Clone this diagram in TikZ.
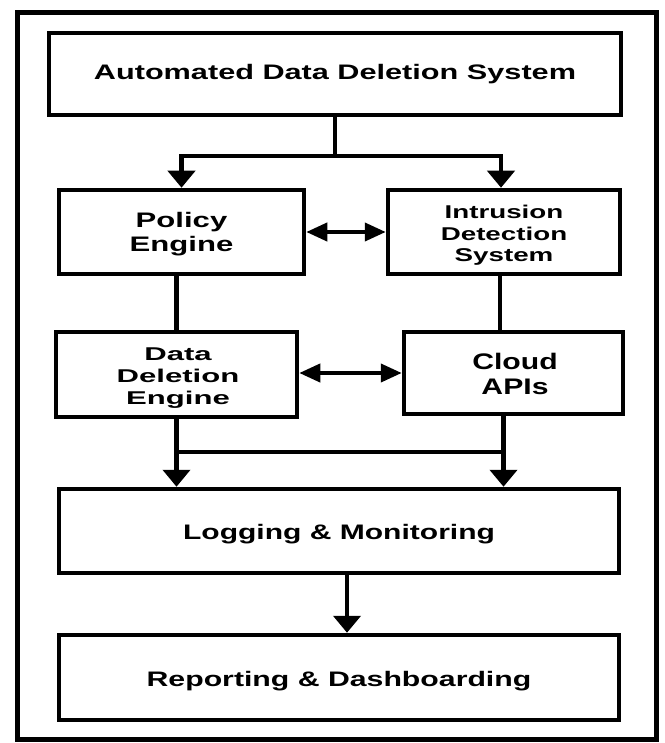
\documentclass[tikz,border=0pt]{standalone}
\usepackage{fontspec}
\usepackage{graphicx}
\setmainfont{Liberation Sans}
\usetikzlibrary{arrows.meta}
\newcommand{\lbl}[4]{\scalebox{#3}[1]{\fontsize{#1}{#2}\selectfont\bfseries\begin{tabular}{@{}c@{}}#4\end{tabular}}}
\tikzset{
  box/.style={draw=black, line width=4.5pt, fill=white, inner sep=0pt, line join=miter},
  txt/.style={inner sep=0pt},
  conn/.style={line width=4.5pt, line join=miter},
  downarr/.style={conn, -{Triangle[length=17pt,width=27pt]}},
  dblarr/.style={line width=4pt, {Triangle[length=21pt,width=18pt]}-{Triangle[length=21pt,width=18pt]}},
}
\begin{document}
\begin{tikzpicture}[x=1pt,y=-1pt]
\useasboundingbox (0,0) rectangle (664,743);
\fill[white] (0,0) rectangle (664,743);
\draw[line width=5pt] (17.5,13) rectangle (656.5,739);

\node[box, minimum width=572pt, minimum height=82pt] (top) at (335,74) {};
\node[box, minimum width=245pt, minimum height=84pt] (policy) at (181.5,232) {};
\node[box, minimum width=232pt, minimum height=84pt] (ids) at (504,232) {};
\node[box, minimum width=241pt, minimum height=85pt] (dde) at (176.5,374.5) {};
\node[box, minimum width=219pt, minimum height=82pt] (cloud) at (513.5,373) {};
\node[box, minimum width=560pt, minimum height=84pt] (log) at (339,531) {};
\node[box, minimum width=560pt, minimum height=85pt] (rep) at (339,677.5) {};

\node[txt] (topT) at ([yshift=-1pt]top.center)
  {\lbl{21}{25}{1.46}{Automated Data Deletion System}};
\node[txt] (policyT) at ([yshift=-3pt]policy.center)
  {\lbl{21}{24}{1.48}{Policy\\Engine}};
\node[txt] (idsT) at ([yshift=-4pt]ids.center)
  {\lbl{18.5}{21.5}{1.5}{Intrusion\\Detection\\System}};
\node[txt] (ddeT) at ([yshift=-3.5pt, xshift=1.5pt]dde.center)
  {\lbl{18.5}{22}{1.68}{Data\\Deletion\\Engine}};
\node[txt] (cloudT) at ([yshift=-3.5pt, xshift=1.5pt]cloud.center)
  {\lbl{22.5}{25}{1.34}{Cloud\\APIs}};
\node[txt] (logT) at ([yshift=-3pt]log.center)
  {\lbl{21}{25}{1.43}{Logging \& Monitoring}};
\node[txt] (repT) at ([yshift=-3.5pt]rep.center)
  {\lbl{21}{25}{1.44}{Reporting \& Dashboarding}};

% top split
\coordinate (j1) at (335,156);
\draw[conn] (top.south) -- (j1);
\draw[downarr] (j1) -| (policy.north);
\draw[downarr] (j1) -| ([xshift=-3pt]ids.north);

% bidirectional
\draw[dblarr] (policy.east) -- (ids.west);
\draw[dblarr] (dde.east |- cloud.west) -- (cloud.west);

% verticals between rows
\draw[conn] (dde.north |- policy.south) -- (dde.north);
\draw[conn] ([xshift=-4pt]ids.south) -- ([xshift=-4pt]ids.south |- cloud.north);

% merge to logging
\coordinate (m1) at (dde.south);
\coordinate (m2) at ([xshift=-10pt]cloud.south);
\draw[downarr] (m1) -- (m1 |- log.north);
\draw[downarr] (m2) -- (m2 |- log.north);
\draw[conn] (m1 |- 0,452) -- (m2 |- 0,452);

% logging to reporting
\draw[downarr] ([xshift=8pt]log.south) -- ([xshift=8pt]log.south |- rep.north);
\end{tikzpicture}
\end{document}
